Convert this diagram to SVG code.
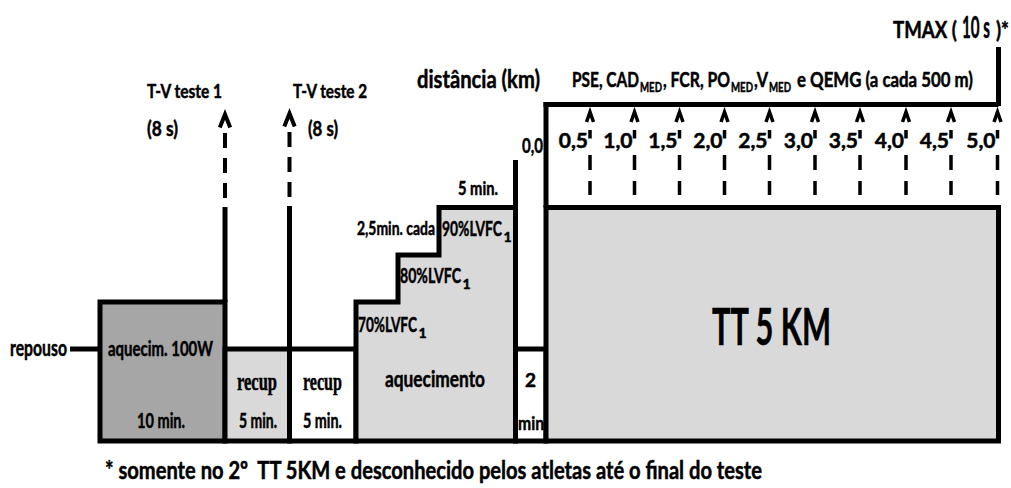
<svg xmlns="http://www.w3.org/2000/svg" xmlns:xlink="http://www.w3.org/1999/xlink" width="1011" height="488" viewBox="0 0 1011 488">
<style>
text{font-family:Lato,"Liberation Sans",sans-serif;font-weight:bold;fill:#000;stroke:#000;stroke-width:0.5}
.serif{font-family:"Liberation Serif","DejaVu Serif",serif}
.box{stroke:#000;stroke-width:5}
.ln{stroke:#000;stroke-width:5;fill:none}
.dl{stroke:#000;stroke-width:3.5;fill:none;stroke-dasharray:8.5 16.5 15 11 14 40}
.tvd{stroke:#000;stroke-width:4;fill:none;stroke-dasharray:15 10}
.chev{stroke:#000;stroke-width:3.5;fill:none;stroke-linejoin:miter}
.chevb{stroke:#000;stroke-width:4;fill:none;stroke-linejoin:miter}
.sub{font-size:14px}
</style>
<defs>
<path id="ch" d="M-3.5,10 L0,0 L3.5,10"/>
<path id="chb" d="M-5.2,13 L0,0 L5.2,13"/>
</defs>
<rect width="1011" height="488" fill="#fff"/>

<g id="aquecim100">
<rect class="box" x="100" y="302" width="125" height="139" fill="#a6a6a6"/>
<text x="108" y="356" font-size="21" textLength="105" lengthAdjust="spacingAndGlyphs">aquecim. 100W</text>
<text x="137" y="428" font-size="21" textLength="48" lengthAdjust="spacingAndGlyphs">10 min.</text>
</g>
<g id="recup1">
<rect class="box" x="225" y="349" width="64.5" height="92" fill="#d9d9d9"/>
<text class="serif" x="237" y="390" font-size="26" textLength="40" lengthAdjust="spacingAndGlyphs">recup</text>
<text x="239" y="428" font-size="21" textLength="38" lengthAdjust="spacingAndGlyphs">5 min.</text>
</g>
<g id="recup2">
<rect class="box" x="289.5" y="349" width="66.5" height="92" fill="#fff"/>
<text class="serif" x="303" y="390" font-size="26" textLength="39" lengthAdjust="spacingAndGlyphs">recup</text>
<text x="303" y="428" font-size="21" textLength="39" lengthAdjust="spacingAndGlyphs">5 min.</text>
</g>
<g id="aquecimento">
<polygon class="box" points="356,441 356,302 398,302 398,255 439,255 439,207.5 515.5,207.5 515.5,441" fill="#d9d9d9"/>
<text x="458" y="195" font-size="19" textLength="40" lengthAdjust="spacingAndGlyphs">5 min.</text>
<text x="357" y="235" font-size="19" textLength="78" lengthAdjust="spacingAndGlyphs">2,5min. cada</text>
<text x="442" y="235.5" font-size="21" textLength="60" lengthAdjust="spacingAndGlyphs">90%LVFC</text>
<text class="sub" x="503.5" y="241.5">1</text>
<text x="400" y="283" font-size="21" textLength="61" lengthAdjust="spacingAndGlyphs">80%LVFC</text>
<text class="sub" x="462.5" y="289">1</text>
<text x="358" y="332" font-size="21" textLength="59" lengthAdjust="spacingAndGlyphs">70%LVFC</text>
<text class="sub" x="418.5" y="338">1</text>
<text x="385" y="387" font-size="23" textLength="100" lengthAdjust="spacingAndGlyphs">aquecimento</text>
</g>
<g id="pausa2min">
<rect class="box" x="515.5" y="349" width="30.5" height="92" fill="#fff"/>
<text x="525" y="387" font-size="19">2</text>
<text x="518" y="430" font-size="19" textLength="26" lengthAdjust="spacingAndGlyphs">min</text>
</g>
<g id="tt5km">
<rect class="box" x="546" y="207.5" width="452.5" height="233.5" fill="#d9d9d9"/>
<text x="712" y="345" font-size="52" textLength="119" lengthAdjust="spacingAndGlyphs">TT 5 KM</text>
</g>

<g id="connectors">
<line class="ln" x1="70" y1="349" x2="100" y2="349"/>
<line class="ln" x1="225" y1="207" x2="225" y2="302"/>
<line class="tvd" x1="225" y1="133" x2="225" y2="198"/>
<use xlink:href="#chb" class="chevb" x="225" y="114.4"/>
<line class="ln" x1="289.5" y1="206" x2="289.5" y2="349"/>
<line class="tvd" x1="289.5" y1="132" x2="289.5" y2="197"/>
<use xlink:href="#chb" class="chevb" x="289.5" y="113.4"/>
<line class="ln" x1="515.5" y1="160" x2="515.5" y2="207.5"/>
<line class="ln" x1="546" y1="102" x2="546" y2="207.5"/>
<line class="ln" x1="543.5" y1="104.5" x2="998.5" y2="104.5" stroke-width="4.5"/>
<line class="ln" x1="998.5" y1="47" x2="998.5" y2="106"/>
<g id="km-arrows">
<line class="dl" x1="590" y1="130" x2="590" y2="205"/><use xlink:href="#ch" class="chev" x="590" y="112"/>
<line class="dl" x1="634.5" y1="130" x2="634.5" y2="205"/><use xlink:href="#ch" class="chev" x="634.5" y="112"/>
<line class="dl" x1="679.5" y1="130" x2="679.5" y2="205"/><use xlink:href="#ch" class="chev" x="679.5" y="112"/>
<line class="dl" x1="724.5" y1="130" x2="724.5" y2="205"/><use xlink:href="#ch" class="chev" x="724.5" y="112"/>
<line class="dl" x1="769.5" y1="130" x2="769.5" y2="205"/><use xlink:href="#ch" class="chev" x="769.5" y="112"/>
<line class="dl" x1="815" y1="130" x2="815" y2="205"/><use xlink:href="#ch" class="chev" x="815" y="112"/>
<line class="dl" x1="860" y1="130" x2="860" y2="205"/><use xlink:href="#ch" class="chev" x="860" y="112"/>
<line class="dl" x1="906" y1="130" x2="906" y2="205"/><use xlink:href="#ch" class="chev" x="906" y="112"/>
<line class="dl" x1="951" y1="130" x2="951" y2="205"/><use xlink:href="#ch" class="chev" x="951" y="112"/>
<line class="dl" x1="997.5" y1="130" x2="997.5" y2="205"/><use xlink:href="#ch" class="chev" x="997.5" y="112"/>
</g>
</g>

<g id="labels">
<text x="10" y="356" font-size="22" textLength="57" lengthAdjust="spacingAndGlyphs">repouso</text>
<text x="147" y="98" font-size="19" textLength="75" lengthAdjust="spacingAndGlyphs">T-V teste 1</text>
<text x="147" y="136" font-size="21" textLength="31" lengthAdjust="spacingAndGlyphs">(8 s)</text>
<text x="293" y="98" font-size="19" textLength="74" lengthAdjust="spacingAndGlyphs">T-V teste 2</text>
<text x="308" y="136" font-size="21" textLength="30" lengthAdjust="spacingAndGlyphs">(8 s)</text>
<text x="417" y="88" font-size="25" textLength="123" lengthAdjust="spacingAndGlyphs">distância (km)</text>
<text x="572" y="87" font-size="21" textLength="67" lengthAdjust="spacingAndGlyphs">PSE, CAD</text>
<text class="sub" x="640" y="92" textLength="22" lengthAdjust="spacingAndGlyphs">MED</text>
<text x="663" y="87" font-size="21" textLength="67" lengthAdjust="spacingAndGlyphs">, FCR, PO</text>
<text class="sub" x="731" y="92" textLength="22" lengthAdjust="spacingAndGlyphs">MED</text>
<text x="754" y="87" font-size="21" textLength="14" lengthAdjust="spacingAndGlyphs">,V</text>
<text class="sub" x="769" y="92" textLength="22" lengthAdjust="spacingAndGlyphs">MED</text>
<text x="797" y="87" font-size="21" textLength="176" lengthAdjust="spacingAndGlyphs">e QEMG (a cada 500 m)</text>
<text x="893" y="37.5" font-size="23" textLength="64" lengthAdjust="spacingAndGlyphs">TMAX (</text>
<text x="962" y="37.5" font-size="31" textLength="28" lengthAdjust="spacingAndGlyphs">10 s</text>
<text x="996" y="37.5" font-size="23" textLength="13" lengthAdjust="spacingAndGlyphs">)*</text>
<text x="522" y="153" font-size="21" textLength="21" lengthAdjust="spacingAndGlyphs">0,0</text>
<g font-size="21" text-anchor="end">
<text x="588" y="148">0,5</text>
<text x="632.5" y="148">1,0</text>
<text x="677.5" y="148">1,5</text>
<text x="722.5" y="148">2,0</text>
<text x="767.5" y="148">2,5</text>
<text x="813" y="148">3,0</text>
<text x="858" y="148">3,5</text>
<text x="904" y="148">4,0</text>
<text x="949" y="148">4,5</text>
<text x="995.5" y="148">5,0</text>
</g>
<text x="105" y="479" font-size="25" textLength="657" lengthAdjust="spacingAndGlyphs" xml:space="preserve">* somente no 2º  TT 5KM e desconhecido pelos atletas até o final do teste</text>
</g>
</svg>
